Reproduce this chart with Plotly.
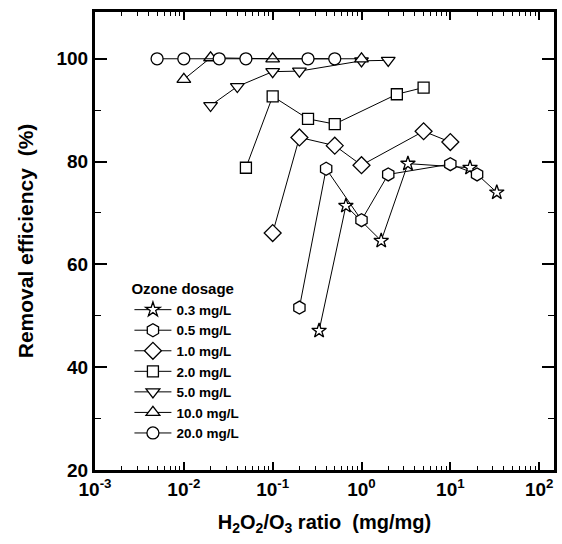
import plotly.graph_objects as go

# ---- data (H2O2/O3 ratio, removal efficiency %) ----
series_names = ["0.3 mg/L", "0.5 mg/L", "1.0 mg/L", "2.0 mg/L", "5.0 mg/L", "10.0 mg/L", "20.0 mg/L"]

ratio_03 = [0.333, 0.667, 1.667, 3.333, 16.67, 33.33]
eff_03 = [47.1, 71.4, 64.6, 79.6, 78.8, 74.0]

ratio_05 = [0.2, 0.4, 1.0, 2.0, 10.0, 20.0]
eff_05 = [51.6, 78.6, 68.6, 77.5, 79.5, 77.5]

ratio_10 = [0.1, 0.2, 0.5, 1.0, 5.0, 10.0]
eff_10 = [66.1, 84.7, 83.1, 79.3, 85.9, 83.8]

ratio_20 = [0.05, 0.1, 0.25, 0.5, 2.5, 5.0]
eff_20 = [78.8, 92.7, 88.3, 87.3, 93.1, 94.4]

ratio_50 = [0.02, 0.04, 0.1, 0.2, 1.0, 2.0]
eff_50 = [90.9, 94.6, 97.5, 97.6, 99.6, 99.7]

ratio_100 = [0.01, 0.02, 0.1, 1.0]
eff_100 = [96.0, 100.2, 100.0, 100.0]

ratio_200 = [0.005, 0.01, 0.025, 0.05, 0.25, 0.5]
eff_200 = [100.0, 100.0, 100.0, 100.0, 100.0, 100.0]

x_tick_vals = [1e-3, 1e-2, 1e-1, 1e0, 1e1, 1e2]
x_tick_text = ["10<sup>-3</sup>", "10<sup>-2</sup>", "10<sup>-1</sup>", "10<sup>0</sup>",
               "10<sup>1</sup>", "10<sup>2</sup>"]
y_tick_vals = [20, 40, 60, 80, 100]

xs = [ratio_03, ratio_05, ratio_10, ratio_20, ratio_50, ratio_100, ratio_200]
ys = [eff_03, eff_05, eff_10, eff_20, eff_50, eff_100, eff_200]
symbols = ["star", "hexagon", "diamond", "square", "triangle-down", "triangle-up", "circle"]
sizes = [11, 13, 13, 11, 12, 12, 12]

FONT = "Liberation Sans, Arial, sans-serif"

fig = go.Figure()
for name, x, y, sym, sz in zip(series_names, xs, ys, symbols, sizes):
    fig.add_trace(go.Scatter(
        x=x, y=y, name=name, mode="lines+markers",
        line=dict(color="black", width=1),
        marker=dict(symbol=sym, size=sz, color="white",
                    line=dict(color="black", width=1.3)),
    ))

minor_x = [m * 10.0 ** e for e in range(-3, 3) for m in range(2, 10)]

fig.update_layout(
    width=562, height=544,
    margin=dict(l=95, r=5, t=12, b=74),
    paper_bgcolor="white", plot_bgcolor="white",
    font=dict(family=FONT, color="black", weight="bold"),
    showlegend=True,
    legend=dict(
        title=dict(text="Ozone dosage", font=dict(size=15, family=FONT, weight="bold")),
        font=dict(size=13.5, family=FONT, weight="bold"),
        x=0.075, y=0.426, xanchor="left", yanchor="top",
        bgcolor="rgba(0,0,0,0)", borderwidth=0,
        itemwidth=37, tracegroupgap=0,
    ),
    xaxis=dict(
        type="log", range=[-3.0, 2.167],
        tickmode="array", tickvals=x_tick_vals, ticktext=x_tick_text,
        ticks="inside", ticklen=8, tickwidth=1.5, tickcolor="black",
        minor=dict(tickmode="array", tickvals=minor_x, ticks="inside",
                   ticklen=4, tickwidth=1.2, tickcolor="black", showgrid=False),
        showline=True, linewidth=3, linecolor="black", mirror="allticks",
        showgrid=False, zeroline=False,
        tickfont=dict(size=19, family=FONT, weight="bold"),
        title=dict(text="H<sub>2</sub>O<sub>2</sub>/O<sub>3</sub> ratio\u00a0\u00a0(mg/mg)",
                   font=dict(size=20, family=FONT, weight="bold"), standoff=17),
    ),
    yaxis=dict(
        range=[20, 109.1],
        tickmode="array", tickvals=y_tick_vals,
        ticks="inside", ticklen=12, tickwidth=1.5, tickcolor="black",
        minor=dict(dtick=10, tick0=0, ticks="inside", ticklen=6,
                   tickwidth=1.2, tickcolor="black", showgrid=False),
        showline=True, linewidth=3, linecolor="black", mirror="allticks",
        showgrid=False, zeroline=False,
        tickfont=dict(size=19, family=FONT, weight="bold"),
        title=dict(text="Removal efficiency\u00a0\u00a0(%)",
                   font=dict(size=21, family=FONT, weight="bold"), standoff=18),
    ),
)

fig.write_html("out.html")
